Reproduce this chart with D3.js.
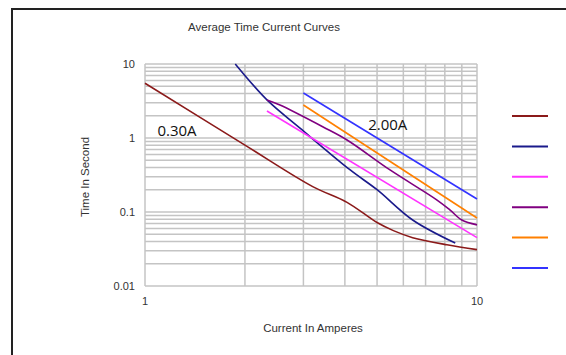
<!DOCTYPE html>
<html>
<head>
<meta charset="utf-8">
<script src="https://cdn.jsdelivr.net/npm/d3@7"></script>
<style>
  body { margin: 0; background: #fff; }
  svg { display: block; font-family: "Liberation Sans", Arial, sans-serif; }
</style>
</head>
<body>
<div id="chart"></div>
<script>
// curve data: [current (A), time (s)]
const curve030 = [[1, 5.5], [2.0, 0.8], [3.2, 0.22], [4.06, 0.135], [5.0, 0.072], [5.6, 0.056], [6.4, 0.045], [8.12, 0.036], [10, 0.031]];
const curveNavy = [[1.87, 10], [2.33, 3.27], [2.93, 1.36], [4.15, 0.37], [5.0, 0.2], [6.4, 0.078], [8.6, 0.038]];
const curveMagenta = [[2.33, 2.32], [10, 0.045]];
const curvePurple = [[2.33, 3.27], [2.55, 2.79], [3.44, 1.41], [4.06, 0.94], [5.47, 0.37], [7.58, 0.145], [8.3, 0.106], [9.0, 0.078], [10, 0.067]];
const curveOrange = [[3, 2.79], [10, 0.083]];
const curveBlue = [[3, 4.06], [10, 0.15]];

const series = [curve030, curveNavy, curveMagenta, curvePurple, curveOrange, curveBlue];
const colors = ['#8b1a1a', '#1a1a8b', '#ff33ff', '#800080', '#ff8000', '#3333ff'];
const xTicks = [1, 10];
const yTicks = [0.01, 0.1, 1, 10];
const labels = [{ text: '0.30A', x: 1.09, y: 1.05 }, { text: '2.00A', x: 4.7, y: 1.3 }];

const width = 566, height = 355;
const svg = d3.select('#chart').append('svg')
  .attr('width', width)
  .attr('height', height);

// outer frame
svg.append('rect')
  .attr('x', 12).attr('y', 9)
  .attr('width', 600).attr('height', 400)
  .attr('fill', 'none')
  .attr('stroke', '#222')
  .attr('stroke-width', 2);

const x = d3.scaleLog().domain([1, 10]).range([145, 477]);
const y = d3.scaleLog().domain([0.01, 10]).range([286, 64]);

// minor + major grid
const xGrid = d3.range(1, 11);
const yGrid = [];
[0.01, 0.1, 1].forEach(d => { for (let k = 1; k < 10; k++) yGrid.push(d * k); });
yGrid.push(10);

const grid = svg.append('g').attr('stroke', '#c4c4c4').attr('stroke-width', 1.5);
grid.selectAll('.gx').data(xGrid).enter().append('line')
  .attr('x1', d => x(d)).attr('x2', d => x(d))
  .attr('y1', y(10)).attr('y2', y(0.01));
grid.selectAll('.gy').data(yGrid).enter().append('line')
  .attr('x1', x(1)).attr('x2', x(10))
  .attr('y1', d => y(d)).attr('y2', d => y(d));

// tick labels
svg.append('g').selectAll('text').data(yTicks).enter().append('text')
  .attr('x', 135).attr('y', d => y(d) + 4)
  .attr('text-anchor', 'end')
  .attr('font-size', 11).attr('fill', '#333')
  .text(d => d);
svg.append('g').selectAll('text').data(xTicks).enter().append('text')
  .attr('x', d => x(d)).attr('y', 305)
  .attr('text-anchor', 'middle')
  .attr('font-size', 11).attr('fill', '#333')
  .text(d => d);

// titles
svg.append('text').attr('x', 264).attr('y', 31)
  .attr('text-anchor', 'middle').attr('font-size', 11.5).attr('fill', '#333')
  .text('Average Time Current Curves');
svg.append('text').attr('x', 313).attr('y', 332)
  .attr('text-anchor', 'middle').attr('font-size', 11.5).attr('fill', '#333')
  .text('Current In Amperes');
svg.append('text')
  .attr('transform', 'translate(89,177) rotate(-90)')
  .attr('text-anchor', 'middle').attr('font-size', 11.5).attr('fill', '#333')
  .text('Time In Second');

// curves
const line = d3.line()
  .x(d => x(d[0]))
  .y(d => y(d[1]))
  .curve(d3.curveCatmullRom.alpha(0.5));

svg.append('g').selectAll('path').data(series).enter().append('path')
  .attr('d', line)
  .attr('fill', 'none')
  .attr('stroke', (d, i) => colors[i])
  .attr('stroke-width', 1.6);

// in-plot labels
svg.append('g').selectAll('text').data(labels).enter().append('text')
  .attr('x', d => x(d.x)).attr('y', d => y(d.y))
  .attr('font-size', 15).attr('fill', '#111')
  .attr('font-family', '"Open Sans", sans-serif')
  .text(d => d.text);

// legend (no text)
svg.append('g').selectAll('line').data(colors).enter().append('line')
  .attr('x1', 512).attr('x2', 548)
  .attr('y1', (d, i) => 116 + i * 30.4).attr('y2', (d, i) => 116 + i * 30.4)
  .attr('stroke', d => d)
  .attr('stroke-width', 2);
</script>
</body>
</html>
